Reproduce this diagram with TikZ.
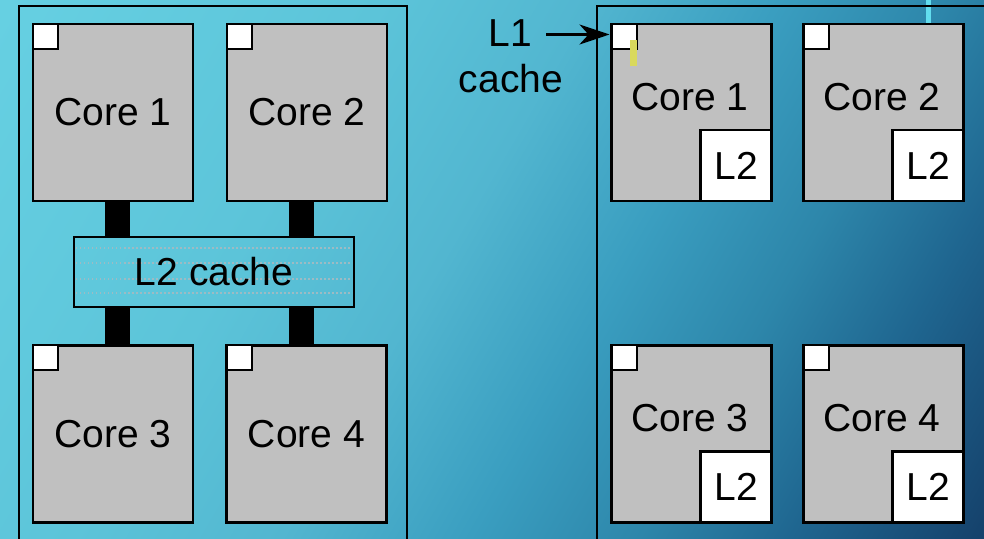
\documentclass[tikz,border=0pt]{standalone}
\usepackage{fontspec}
\setmainfont{Liberation Sans}
\usetikzlibrary{arrows.meta}
\definecolor{coregray}{HTML}{C0C0C0}
\definecolor{bgA}{HTML}{66D0E2}
\definecolor{bgB}{HTML}{5CC4D9}
\definecolor{bgC}{HTML}{52B6D0}
\definecolor{bgD}{HTML}{3A9EC0}
\definecolor{bgE}{HTML}{2D86AA}
\definecolor{bgF}{HTML}{1F6690}
\definecolor{bgG}{HTML}{15426C}
\definecolor{marky}{HTML}{D9D95C}
\definecolor{markc}{HTML}{62DDEE}
\definecolor{dotc}{HTML}{9DBBC4}
\pgfdeclarehorizontalshading{bgshade}{100bp}{color(0bp)=(bgA); color(16bp)=(bgA); color(36bp)=(bgB); color(47bp)=(bgC); color(57bp)=(bgD); color(66bp)=(bgE); color(74bp)=(bgF); color(84bp)=(bgG); color(100bp)=(bgG)}
\begin{document}
\begin{tikzpicture}[x=1bp,y=-1bp,
  every node/.style={font=\fontsize{39bp}{44bp}\selectfont, inner sep=0pt, outer sep=0pt},
  panel/.style={draw=black, line width=2.2bp},
  core/.style={draw=black, fill=coregray, line width=2.2bp, minimum width=160bp, minimum height=177bp},
  lone/.style={draw=black, fill=white, line width=2bp, minimum size=25bp},
  ltwo/.style={draw=black, fill=white, line width=2.2bp, minimum size=71bp},
  bus/.style={draw=black, line width=25bp},
  dotline/.style={draw=dotc, line width=1.5bp, dash pattern=on 1.5bp off 2.5bp},
  cachebox/.style={draw=black, line width=2.2bp, minimum width=280bp, minimum height=70bp,
    path picture={\foreach \dy in {11,26,42,56}{\draw[dotline] ([xshift=2bp,yshift=-\dy bp]path picture bounding box.north west) -- ([xshift=-2bp,yshift=-\dy bp]path picture bounding box.north east);}}},
  arr/.style={draw=black, line width=2.2bp, -{Stealth[length=30bp,width=20bp,inset=9bp]}}
]
% background
\shade[shading=bgshade, shading angle=-30] (0,0) rectangle (984,539);
\clip (0,0) rectangle (984,539);
% artifacts
\fill[markc] (926,0) rectangle (931,24);
% panels
\draw[panel] (19,539) -- (19,6) -- (407,6) -- (407,539);
\draw[panel] (984,6) -- (597,6) -- (597,539);

% left: shared L2
\node[core] (lc1) at (113,112.5) {Core 1};
\node[core] (lc2) at (307,112.5) {Core 2};
\node[core] (lc3) at (113,434) {Core 3};
\node[core] (lc4) at (306.5,434) {Core 4};
\foreach \c in {lc1,lc2,lc3,lc4}{\node[lone, anchor=north west] (\c l1) at (\c.north west) {};}
\node[cachebox] (l2c) at (214,272) {L2 cache};
\draw[bus] ([xshift=4.5bp]lc1.south) -- ([xshift=4.5bp]lc1.south |- l2c.north);
\draw[bus] ([xshift=-5.5bp]lc2.south) -- ([xshift=-5.5bp]lc2.south |- l2c.north);
\draw[bus] ([xshift=4.5bp]lc3.north) -- ([xshift=4.5bp]lc3.north |- l2c.south);
\draw[bus] ([xshift=-5bp]lc4.north) -- ([xshift=-5bp]lc4.north |- l2c.south);

% right: private L2
\node[core] (rc1) at (691.5,112.5) {};
\node[core] (rc2) at (883.5,112.5) {};
\node[core] (rc3) at (691.5,434) {};
\node[core] (rc4) at (883.5,434) {};
\foreach \c/\t in {rc1/Core 1,rc2/Core 2,rc3/Core 3,rc4/Core 4}{
  \node[lone, anchor=north west] (\c l1) at (\c.north west) {};
  \node[ltwo, anchor=south east] (\c l2) at (\c.south east) {L2};
  \node (\c t) at ([xshift=-1.5bp,yshift=-73bp]\c.north) {\t};
}
\fill[marky] (630,40) rectangle (637,66);

% L1 cache label
\node (l1lbl) at (510.5,33.5) {L1};
\node[anchor=base] (cachelbl) at (511,93) {cache};
\draw[arr] ([xshift=14bp,yshift=-1bp]l1lbl.east) -- ([xshift=-2bp,yshift=-1bp]rc1l1.west |- l1lbl.east);
\end{tikzpicture}
\end{document}
